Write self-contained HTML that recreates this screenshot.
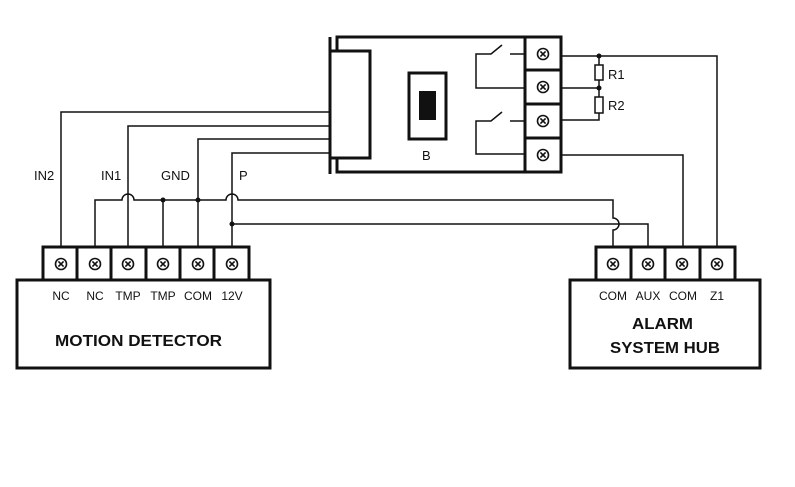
<!DOCTYPE html>
<html><head><meta charset="utf-8"><style>
html,body{margin:0;padding:0;background:#fff;}
svg{display:block;}
text{font-family:"Liberation Sans",sans-serif;fill:#111;}
</style></head><body>
<svg width="795" height="487" viewBox="0 0 795 487" xmlns="http://www.w3.org/2000/svg">
<defs>
<g id="scr"><circle r="5.5" fill="none" stroke="#111" stroke-width="1.6"/><path d="M-2.6,-2.6L2.6,2.6M-2.6,2.6L2.6,-2.6" stroke="#111" stroke-width="1.6"/></g>
</defs>
<g fill="none" stroke="#111">
<path d="M337,51V37H525M337,158V172H525" stroke-width="3"/>
<line x1="330" y1="37" x2="330" y2="174" stroke-width="3"/>
<rect x="330" y="51" width="40" height="107" stroke-width="3"/>
<rect x="525" y="37" width="36" height="135" stroke-width="3"/>
<path d="M525,70H561M525,104H561M525,138H561" stroke-width="3"/>
<rect x="409" y="73" width="37" height="66" stroke-width="3"/>
<rect x="419" y="91" width="17" height="29" fill="#111" stroke="none"/>
<path d="M525,88H476V54H491L502,45M510,54H525" stroke-width="1.5"/>
<path d="M525,154H476V121H491L502,112M510,121H525" stroke-width="1.5"/>
<path d="M561,56H717V247" stroke-width="1.5"/>
<path d="M561,88H599" stroke-width="1.5"/>
<path d="M599,56V65M599,80V97M599,113V120H561" stroke-width="1.5"/>
<rect x="595" y="65" width="8" height="15" stroke-width="1.5"/>
<rect x="595" y="97" width="8" height="16" stroke-width="1.5"/>
<path d="M561,155H683V247" stroke-width="1.5"/>
<path d="M330,112H61V247" stroke-width="1.5"/>
<path d="M330,126H128V247" stroke-width="1.5"/>
<path d="M330,139H198V247" stroke-width="1.5"/>
<path d="M330,153H232V247" stroke-width="1.5"/>
<path d="M95,247V200H122A6,6 0 0 1 134,200H226A6,6 0 0 1 238,200H613V218A6,6 0 0 1 613,230V247" stroke-width="1.5"/>
<path d="M163,200V247" stroke-width="1.5"/>
<path d="M232,224H648V247" stroke-width="1.5"/>
<rect x="43" y="247" width="206" height="33" stroke-width="3"/>
<path d="M77,247V280M111,247V280M146,247V280M180,247V280M214,247V280" stroke-width="3"/>
<rect x="17" y="280" width="253" height="88" stroke-width="3"/>
<rect x="596" y="247" width="139" height="33" stroke-width="3"/>
<path d="M631,247V280M665,247V280M700,247V280" stroke-width="3"/>
<rect x="570" y="280" width="190" height="88" stroke-width="3"/>
</g>
<g fill="#111">
<circle cx="599" cy="56" r="2.5"/><circle cx="599" cy="88" r="2.5"/>
<circle cx="163" cy="200" r="2.5"/><circle cx="198" cy="200" r="2.5"/><circle cx="232" cy="224" r="2.5"/>
</g>
<use href="#scr" x="543" y="54"/><use href="#scr" x="543" y="87"/><use href="#scr" x="543" y="121"/><use href="#scr" x="543" y="155"/>
<use href="#scr" x="61" y="264"/><use href="#scr" x="95" y="264"/><use href="#scr" x="128" y="264"/><use href="#scr" x="163" y="264"/><use href="#scr" x="198" y="264"/><use href="#scr" x="232" y="264"/>
<use href="#scr" x="613" y="264"/><use href="#scr" x="648" y="264"/><use href="#scr" x="682" y="264"/><use href="#scr" x="717" y="264"/>
<g font-size="13">
<text x="608" y="79">R1</text><text x="608" y="110">R2</text>
<text x="422" y="160">B</text>
<text x="34" y="180">IN2</text><text x="101" y="180">IN1</text><text x="161" y="180">GND</text><text x="239" y="180">P</text>
</g>
<g font-size="12" text-anchor="middle">
<text x="61" y="300">NC</text><text x="95" y="300">NC</text><text x="128" y="300">TMP</text><text x="163" y="300">TMP</text><text x="198" y="300">COM</text><text x="232" y="300">12V</text>
<text x="613" y="300">COM</text><text x="648" y="300">AUX</text><text x="683" y="300">COM</text><text x="717" y="300">Z1</text>
</g>
<g font-size="16" font-weight="bold">
<text x="55" y="346" textLength="167" lengthAdjust="spacingAndGlyphs">MOTION DETECTOR</text>
<text x="632" y="329" textLength="61" lengthAdjust="spacingAndGlyphs">ALARM</text>
<text x="610" y="353" textLength="110" lengthAdjust="spacingAndGlyphs">SYSTEM HUB</text>
</g>
</svg>
</body></html>
